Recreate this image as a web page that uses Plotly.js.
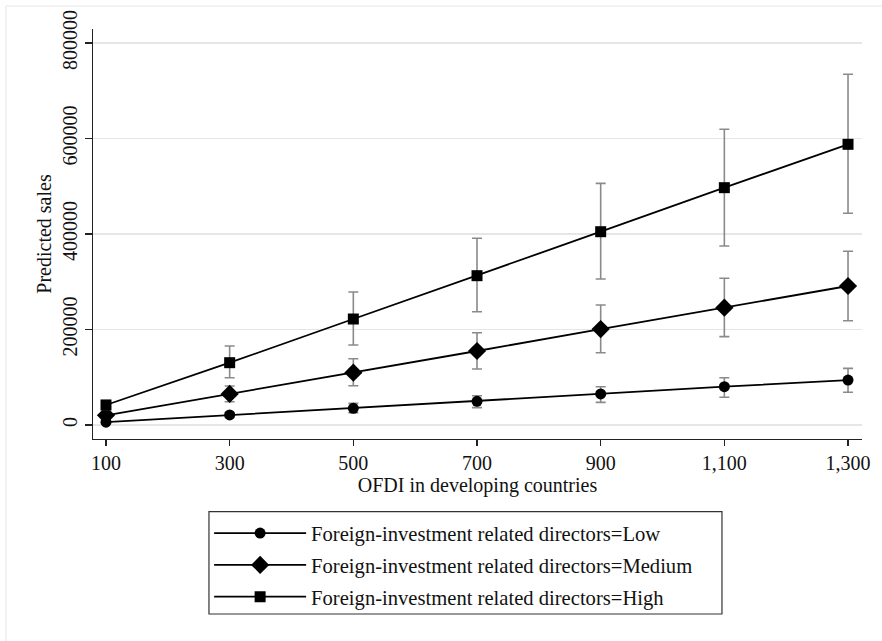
<!DOCTYPE html>
<html>
<head>
<meta charset="utf-8">
<script src="https://cdn.plot.ly/plotly-3.0.1.min.js"></script>
<style>html,body{margin:0;padding:0;background:#fff;}#chart{width:882px;height:641px;}</style>
</head>
<body>
<div id="chart"></div>
<script>
// OFDI values (x)
var ofdi = [100, 300, 500, 700, 900, 1100, 1300];
var xTickLabels = ["100", "300", "500", "700", "900", "1,100", "1,300"];
var yTickVals = [0, 200000, 400000, 600000, 800000];
var yTickLabels = ["0", "200000", "400000", "600000", "800000"];

// Series names
var nameLow = "Foreign-investment related directors=Low";
var nameMed = "Foreign-investment related directors=Medium";
var nameHigh = "Foreign-investment related directors=High";

// Predicted sales (point estimates)
var lowVals  = [6000, 21000, 35000, 49600, 65000, 80200, 94200];
var medVals  = [20300, 65000, 109500, 155000, 201000, 245700, 291100];
var highVals = [41900, 130500, 222000, 312700, 404800, 497000, 587800];

// Confidence interval upper bounds
var lowUpper  = [8500, 26000, 45400, 61400, 80200, 99000, 118700];
var medUpper  = [25000, 81700, 138900, 193300, 251300, 307200, 363800];
var highUpper = [51000, 165500, 278600, 391000, 506000, 619300, 734500];

// Confidence interval lower bounds
var lowLower  = [3500, 16000, 25800, 36300, 47500, 58000, 68500];
var medLower  = [15600, 48800, 82300, 117300, 151400, 185000, 218400];
var highLower = [32800, 99000, 167500, 237300, 305800, 374900, 443400];

function diff(a, b) { return a.map(function (v, i) { return v - b[i]; }); }

var errColor = "#8a8a8a";
function mkTrace(vals, up, lo, name, symbol, size) {
  return {
    x: ofdi, y: vals, name: name, type: "scatter", mode: "lines+markers",
    line: { color: "#000", width: 1.8 },
    marker: { color: "#000", symbol: symbol, size: size },
    error_y: { type: "data", symmetric: false, array: diff(up, vals), arrayminus: diff(vals, lo),
               color: errColor, thickness: 1.6, width: 5 },
    legendgroup: name
  };
}

var data = [
  mkTrace(lowVals, lowUpper, lowLower, nameLow, "circle", 11),
  mkTrace(medVals, medUpper, medLower, nameMed, "diamond", 14),
  mkTrace(highVals, highUpper, highLower, nameHigh, "square", 11)
];

var fontFam = "Liberation Serif, Times New Roman, serif";
var layout = {
  width: 882, height: 641,
  paper_bgcolor: "#fff", plot_bgcolor: "#fff",
  margin: { l: 93, r: 20, t: 29, b: 202 },
  font: { family: fontFam, size: 20, color: "#111" },
  showlegend: true,
  legend: {
    x: 0.151, y: -0.181, xanchor: "left", yanchor: "top",
    borderwidth: 0, bgcolor: "rgba(0,0,0,0)",
    font: { family: fontFam, size: 20.6, color: "#111" },
    traceorder: "grouped", tracegroupgap: 2, itemwidth: 92
  },
  xaxis: {
    range: [79, 1322.6], tickmode: "array", tickvals: ofdi, ticktext: xTickLabels,
    showgrid: false, zeroline: false, showline: true, linecolor: "#222", linewidth: 1.3,
    ticks: "outside", ticklen: 6, tickcolor: "#222", tickwidth: 1.2,
    tickfont: { family: fontFam, size: 20, color: "#111" },
    title: { text: "OFDI in developing countries", font: { family: fontFam, size: 20, color: "#111" }, standoff: 2 }
  },
  yaxis: {
    range: [-29300, 829300], tickmode: "array", tickvals: yTickVals, ticktext: yTickLabels,
    showgrid: true, gridcolor: "#e6e6e6", gridwidth: 1.3, zeroline: false,
    showline: true, linecolor: "#222", linewidth: 1.3,
    ticks: "outside", ticklen: 7, tickcolor: "#222", tickwidth: 1.2, tickangle: -90,
    tickfont: { family: fontFam, size: 20, color: "#111" },
    title: { text: "Predicted sales", font: { family: fontFam, size: 20, color: "#111" }, standoff: 1 }
  },
  shapes: [
    { type: "line", xref: "paper", yref: "paper", x0: -0.1131, x1: 1.03, y0: 1.0561, y1: 1.0561,
      line: { color: "#eeeeee", width: 1.5 } },
    { type: "line", xref: "paper", yref: "paper", x0: -0.1131, x1: -0.1131, y0: 1.0561, y1: -0.5,
      line: { color: "#eeeeee", width: 1.5 } },
    // legend frame
    { type: "rect", xref: "paper", yref: "paper", x0: 0.1508, x1: 0.8179, y0: -0.4268, y1: -0.1773,
      line: { color: "#333", width: 1.2 }, fillcolor: "rgba(0,0,0,0)" }
  ]
};

Plotly.newPlot("chart", data, layout, { displayModeBar: false, staticPlot: true });
</script>
</body>
</html>
